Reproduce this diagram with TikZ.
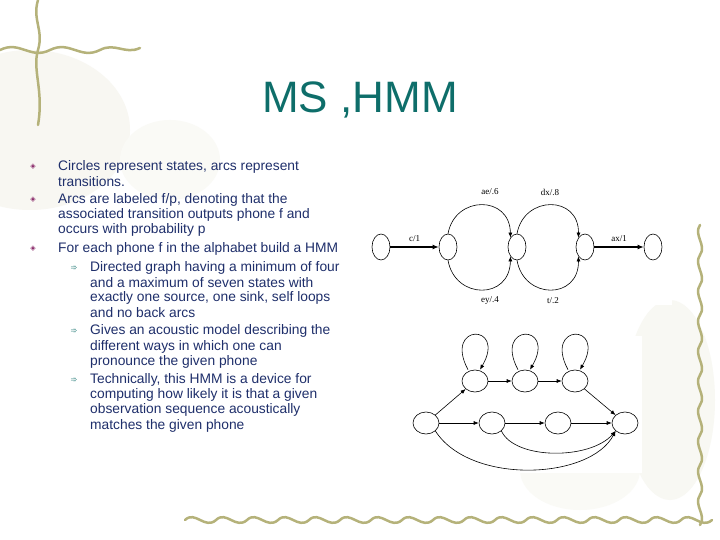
\documentclass[tikz,border=0pt]{standalone}
\usepackage{fontspec}
\setmainfont{Liberation Sans}
\newfontfamily\dejavu{DejaVu Sans}
\usetikzlibrary{arrows.meta,shapes.geometric}
\definecolor{teal1}{HTML}{0E6E6A}
\definecolor{navy}{HTML}{1F2F6B}
\definecolor{olive}{HTML}{B5B27A}
\definecolor{bulp}{HTML}{8A2A6A}
\begin{document}
\begin{tikzpicture}[x=1pt,y=-1pt,
  st/.style={draw,ellipse,minimum width=18pt,minimum height=26pt,inner sep=0pt,line width=0.6pt},
  sb/.style={draw,ellipse,minimum width=26pt,minimum height=22pt,inner sep=0pt,line width=0.6pt},
  ed/.style={-{Latex[length=5pt,width=4pt]},line width=0.6pt},
  edb/.style={-{Latex[length=6pt,width=5pt]},line width=1.3pt},
  lab/.style={font=\fontspec{Liberation Serif}\fontsize{9}{10}\selectfont},
  body/.style={anchor=west,text=navy,font=\fontsize{13.8}{15}\selectfont,inner sep=0pt},
  deco/.style={draw=olive,line width=2.5pt,line cap=round}]
\useasboundingbox (0,0) rectangle (720,540);
\fill[white] (0,0) rectangle (720,540);
% soft background blotches
\fill[olive!10] (30,130) ellipse (100 and 80);
\fill[olive!7] (170,160) ellipse (50 and 40);
\fill[olive!9] (670,400) ellipse (45 and 100);
\fill[olive!7] (580,470) ellipse (60 and 40);
\fill[white] (408,336) rectangle (642,473);
\fill[white] (365,185) rectangle (672,305);
% decorative frame
\draw[deco] (0,50) .. controls (20,40) and (30,60) .. (50,50) .. controls (70,40) and (80,60) .. (100,50) .. controls (115,42) and (125,55) .. (140,48);
\draw[deco] (38,0) .. controls (32,20) and (44,30) .. (38,50) .. controls (32,70) and (44,90) .. (38,125);
\draw[deco] (185,520) \foreach \i in {0,...,16} { .. controls ({185+\i*31+10},510) and ({185+\i*31+20},530) .. ({185+(\i+1)*31},520)};
\draw[deco] (700,225) \foreach \i in {0,...,9} { .. controls (693,{225+\i*30+10}) and (707,{225+\i*30+20}) .. (700,{225+(\i+1)*30})};
% title
\node[text=teal1,font=\fontsize{44}{48}\selectfont] (title) at (360,100) {MS ,HMM};
% bullets
\foreach \y/\n in {167/b1,200/b2,249/b3}{\node[text=bulp,font=\dejavu\fontsize{7}{8}\selectfont] (\n) at (33,\y) {◈};}
\foreach \y/\n in {268/s1,331/s2,380/s3}{\node[text=teal1,font=\dejavu\fontsize{8}{9}\selectfont] (\n) at (74,\y) {➾};}
\node[body] (t1) at (58,167) {Circles represent states, arcs represent};
\node[body] (t2) at (58,182) {transitions.};
\node[body] (t3) at (58,200) {Arcs are labeled f/p, denoting that the};
\node[body] (t4) at (58,215) {associated transition outputs phone f and};
\node[body] (t5) at (58,230) {occurs with probability p};
\node[body] (t6) at (58,249) {For each phone f in the alphabet build a HMM};
\node[body] (u1) at (90,268) {Directed graph having a minimum of four};
\node[body] (u2) at (90,283) {and a maximum of seven states with};
\node[body] (u3) at (90,298) {exactly one source, one sink, self loops};
\node[body] (u4) at (90,313) {and no back arcs};
\node[body] (v1) at (90,331) {Gives an acoustic model describing the};
\node[body] (v2) at (90,347) {different ways in which one can};
\node[body] (v3) at (90,362) {pronounce the given phone};
\node[body] (w1) at (90,380) {Technically, this HMM is a device for};
\node[body] (w2) at (90,395) {computing how likely it is that a given};
\node[body] (w3) at (90,410) {observation sequence acoustically};
\node[body] (w4) at (90,426) {matches the given phone};
% top graph
\node[st] (A) at (381,247) {};
\node[st] (B) at (448,247) {};
\node[st] (C) at (517,247) {};
\node[st] (D) at (585,247) {};
\node[st] (E) at (653,247) {};
\draw[edb] (A) -- node[lab,above=1pt] (l1) {c/1} (B);
\draw[edb] (D) -- node[lab,above=1pt] (l2) {ax/1} (E);
\draw[ed] (B.north) .. controls (455,195) and (510,195) .. (C.north west);
\draw[ed] (B.south) .. controls (455,300) and (510,300) .. (C.south west);
\draw[ed] (C.north) .. controls (524,195) and (579,195) .. (D.north west);
\draw[ed] (C.south) .. controls (524,300) and (579,300) .. (D.south west);
\node[lab] (l3) at (490,192) {ae/.6};
\node[lab] (l4) at (550,192) {dx/.8};
\node[lab] (l5) at (490,301) {ey/.4};
\node[lab] (l6) at (553,301) {t/.2};
% bottom graph
\node[sb] (P) at (475,381) {};
\node[sb] (Q) at (525,381) {};
\node[sb] (R) at (575,381) {};
\node[sb] (S) at (426,423) {};
\node[sb] (T) at (492,423) {};
\node[sb] (U) at (558,423) {};
\node[sb] (V) at (625,423) {};
\foreach \n in {P,Q,R}{
  \draw[ed] ([xshift=-7pt]\n.north) .. controls ([xshift=-32pt,yshift=58pt]\n.center) and ([xshift=32pt,yshift=58pt]\n.center) .. ([xshift=5pt]\n.north);}
\draw[ed] (P) -- (Q);
\draw[ed] (Q) -- (R);
\draw[ed] (S) -- (P);
\draw[ed] (R) -- (V);
\draw[ed] (S) -- (T);
\draw[ed] (T) -- (U);
\draw[ed] (U) -- (V);
\draw[ed] (T.south east) .. controls (515,460) and (590,460) .. (V.south west);
\draw[ed] (S.south east) .. controls (470,485) and (590,480) .. (V.south west);
\end{tikzpicture}
\end{document}
